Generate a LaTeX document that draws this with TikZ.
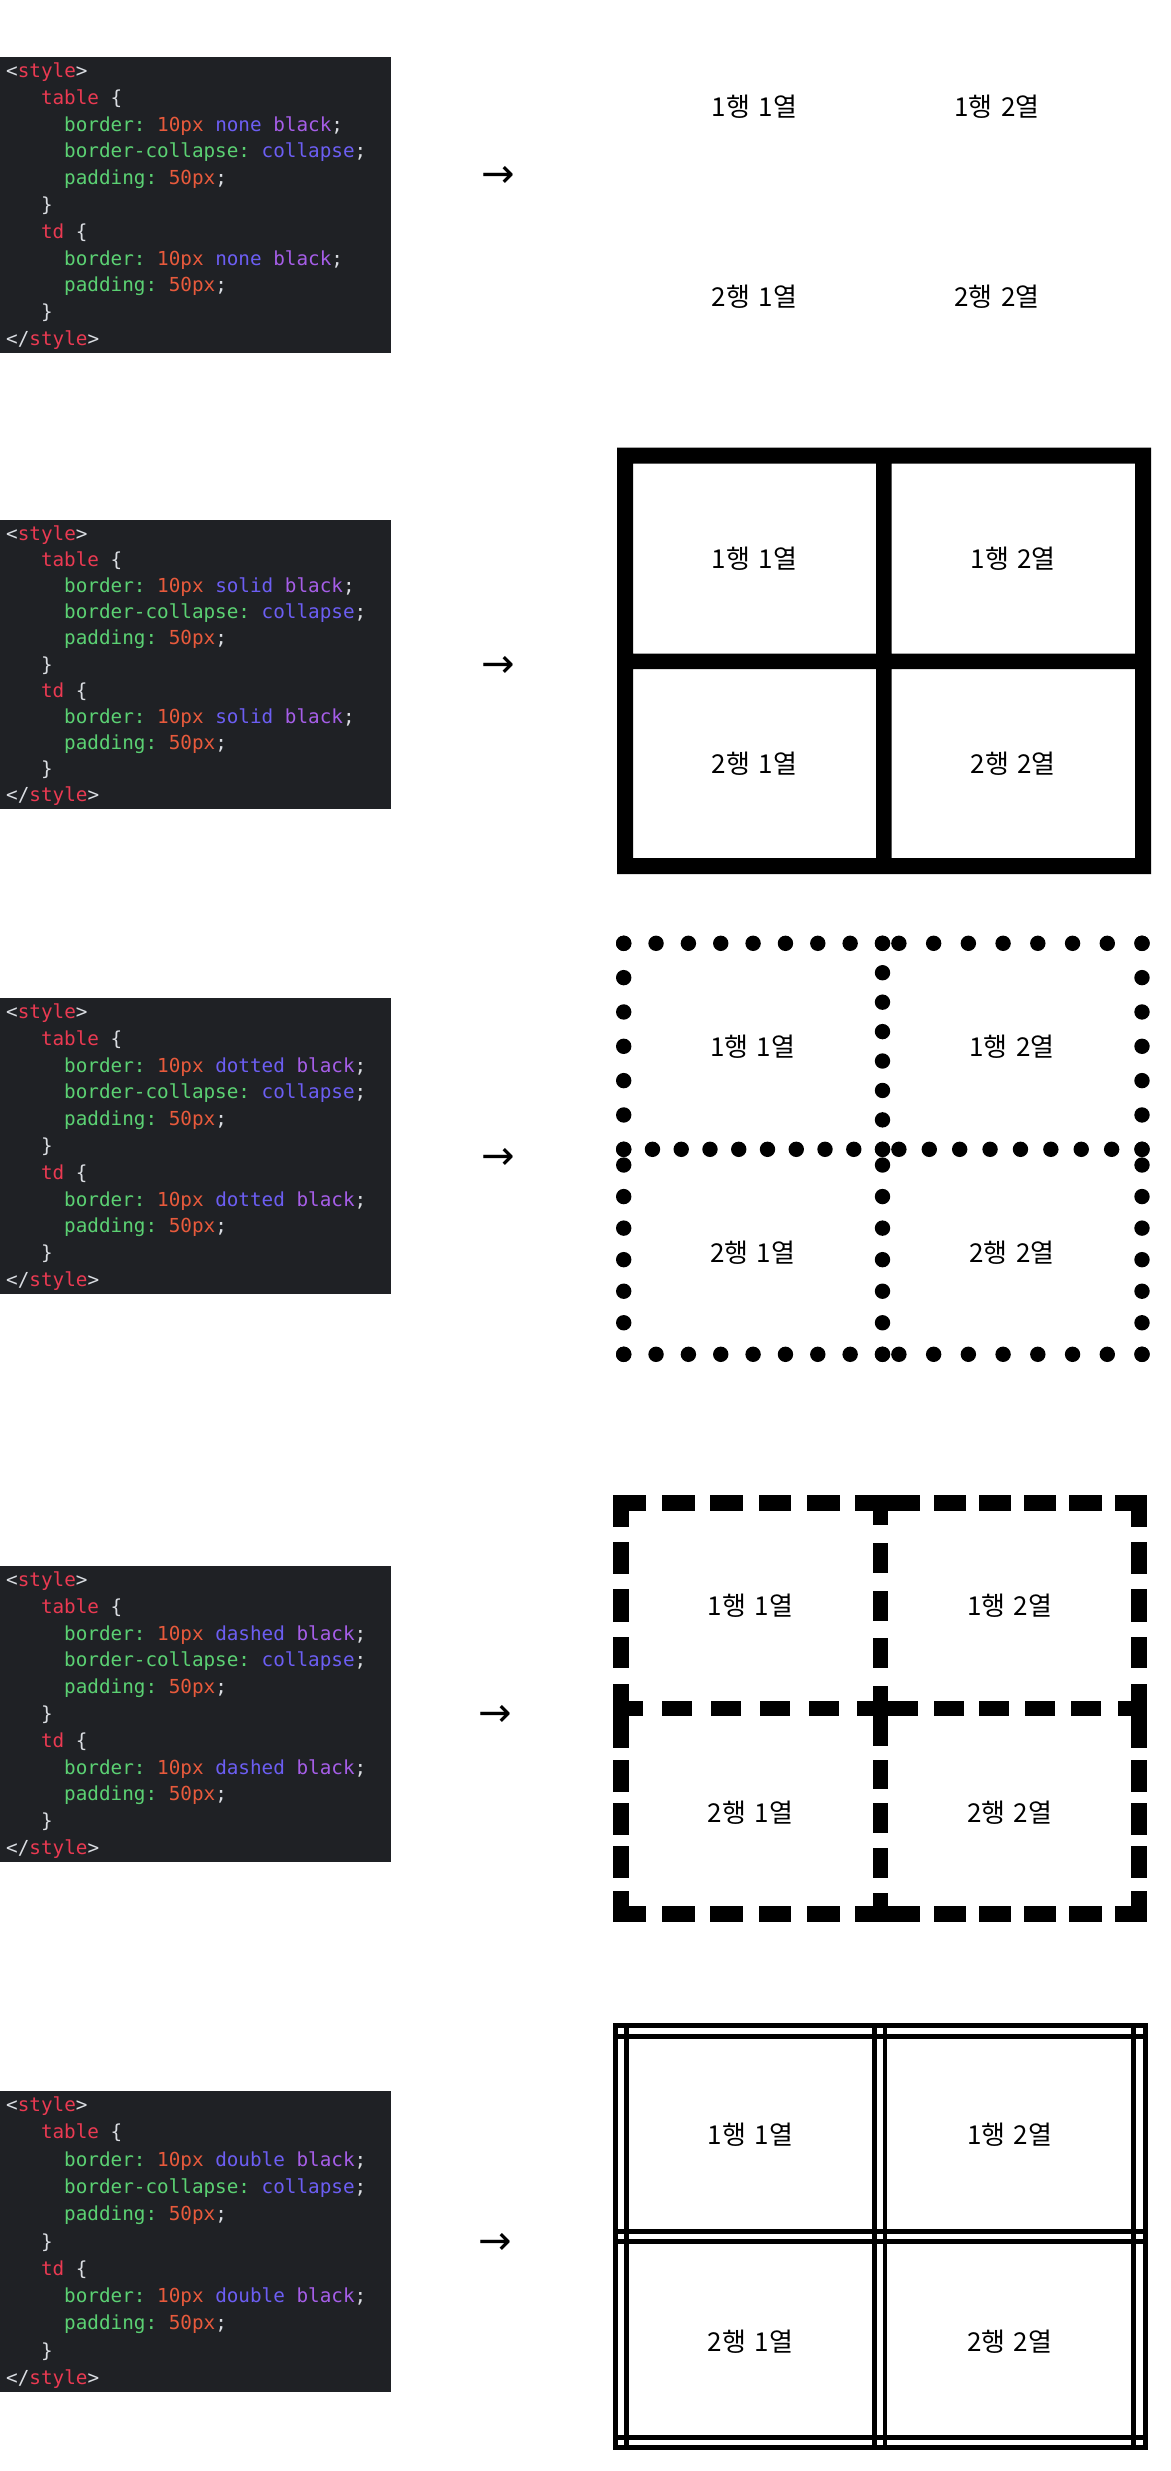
\documentclass[tikz,border=0pt]{standalone}
\usepackage{fontspec}
\setmonofont{DejaVu Sans Mono}
\newfontfamily\krfont{Noto Sans CJK KR}
\newfontfamily\arrowfont{DejaVu Sans}
\definecolor{codebg}{HTML}{1F2125}
\definecolor{ctag}{HTML}{EA3A52}
\definecolor{cpunc}{HTML}{DADDE2}
\definecolor{cprop}{HTML}{5BD173}
\definecolor{cnum}{HTML}{E85A3C}
\definecolor{ckw}{HTML}{6C5EF3}
\definecolor{cblk}{HTML}{A65EE8}
\tikzset{
  codetxt/.style={anchor=base west, inner sep=0pt, font=\ttfamily\fontsize{19.3}{19.3}\selectfont},
  celltxt/.style={anchor=center, inner sep=0pt, font=\krfont\fontsize{26}{26}\selectfont},
  arrowtxt/.style={anchor=center, inner sep=0pt, font=\arrowfont\fontsize{40}{40}\selectfont},
  codebox/.style={fill=codebg, draw=none},
  dot/.style={fill=black}
}
\newcommand\mycodeline[4]{\node[codetxt] (#1) at ({6+#2*11.6},{#3}) {#4};}
\newcommand\mycodeblock[4]{%
  \pgfmathsetmacro\cbtop{#2}%
  \pgfmathsetmacro\cbstep{(#3-28)/10}%
  \path[codebox] (0,#2) rectangle (391,{#2+#3});
  \mycodeline{#1l0}{0}{\cbtop+20.5+0*\cbstep}{\textcolor{cpunc}{<}\textcolor{ctag}{style}\textcolor{cpunc}{>}}
  \mycodeline{#1l1}{3}{\cbtop+20.5+1*\cbstep}{\textcolor{ctag}{table} \textcolor{cpunc}{\{}}
  \mycodeline{#1l2}{5}{\cbtop+20.5+2*\cbstep}{\textcolor{cprop}{border:} \textcolor{cnum}{10px} \textcolor{ckw}{#4} \textcolor{cblk}{black}\textcolor{cpunc}{;}}
  \mycodeline{#1l3}{5}{\cbtop+20.5+3*\cbstep}{\textcolor{cprop}{border-collapse:} \textcolor{ckw}{collapse}\textcolor{cpunc}{;}}
  \mycodeline{#1l4}{5}{\cbtop+20.5+4*\cbstep}{\textcolor{cprop}{padding:} \textcolor{cnum}{50px}\textcolor{cpunc}{;}}
  \mycodeline{#1l5}{3}{\cbtop+20.5+5*\cbstep}{\textcolor{cpunc}{\}}}
  \mycodeline{#1l6}{3}{\cbtop+20.5+6*\cbstep}{\textcolor{ctag}{td} \textcolor{cpunc}{\{}}
  \mycodeline{#1l7}{5}{\cbtop+20.5+7*\cbstep}{\textcolor{cprop}{border:} \textcolor{cnum}{10px} \textcolor{ckw}{#4} \textcolor{cblk}{black}\textcolor{cpunc}{;}}
  \mycodeline{#1l8}{5}{\cbtop+20.5+8*\cbstep}{\textcolor{cprop}{padding:} \textcolor{cnum}{50px}\textcolor{cpunc}{;}}
  \mycodeline{#1l9}{3}{\cbtop+20.5+9*\cbstep}{\textcolor{cpunc}{\}}}
  \mycodeline{#1lx}{0}{\cbtop+20.5+10*\cbstep}{\textcolor{cpunc}{</}\textcolor{ctag}{style}\textcolor{cpunc}{>}}
}
\newcommand\mycells[5]{% prefix, x1, x2, y1, y2
  \node[celltxt] (#1a) at (#2,#4) {1행\hspace{0.32em}1열};
  \node[celltxt] (#1b) at (#3,#4) {1행\hspace{0.32em}2열};
  \node[celltxt] (#1c) at (#2,#5) {2행\hspace{0.32em}1열};
  \node[celltxt] (#1d) at (#3,#5) {2행\hspace{0.32em}2열};
}
\begin{document}
\begin{tikzpicture}[x=1pt,y=-1pt]
\useasboundingbox[fill=white] (0,0) rectangle (1170,2471);

% ---------- code boxes ----------
\mycodeblock{pa}{57}{296}{none}
\mycodeblock{pb}{520}{289}{solid}
\mycodeblock{pc}{998}{296}{dotted}
\mycodeblock{pd}{1566}{296}{dashed}
\mycodeblock{pe}{2091}{301}{double}

% ---------- arrows ----------
\node[arrowtxt] (ara) at (498,177) {→};
\node[arrowtxt] (arb) at (498,667) {→};
\node[arrowtxt] (arc) at (498,1159) {→};
\node[arrowtxt] (ard) at (495,1715.5) {→};
\node[arrowtxt] (are) at (495,2244) {→};

% ---------- panel 1: none ----------
\mycells{ta}{754.5}{997}{107}{296.5}

% ---------- panel 2: solid ----------
\fill[black, even odd rule] (617,447.5) rectangle (1151,874)
  (633,463.5) rectangle (876,653.5)
  (891.5,463.5) rectangle (1135,653.5)
  (633,669) rectangle (876,858)
  (891.5,669) rectangle (1135,858);
\mycells{tb}{754.5}{1013.2}{558.5}{763.5}

% ---------- panel 3: dotted ----------
\foreach \i in {0,...,8} {
  \fill[dot] ({623.7+\i*32.35},943.3) circle[radius=7.7pt];
  \fill[dot] ({623.7+\i*32.35},1354.3) circle[radius=7.7pt];
}
\foreach \i in {0,...,7} {
  \fill[dot] ({898.9+\i*34.73},943.3) circle[radius=7.7pt];
  \fill[dot] ({898.9+\i*34.73},1354.3) circle[radius=7.7pt];
}
\foreach \i in {0,...,9} \fill[dot] ({623.7+\i*28.76},1149.3) circle[radius=7.7pt];
\foreach \i in {0,...,8} \fill[dot] ({898.9+\i*30.39},1149.3) circle[radius=7.7pt];
\foreach \i in {0,...,6} {
  \fill[dot] (623.7,{943.3+\i*34.33}) circle[radius=7.7pt];
  \fill[dot] (1142,{943.3+\i*34.33}) circle[radius=7.7pt];
  \fill[dot] (623.7,{1165+\i*31.55}) circle[radius=7.7pt];
  \fill[dot] (1142,{1165+\i*31.55}) circle[radius=7.7pt];
  \fill[dot] (882.5,{1165+\i*31.55}) circle[radius=7.7pt];
}
\foreach \i in {0,...,7} \fill[dot] (882.5,{943.3+\i*29.43}) circle[radius=7.7pt];
\mycells{tc}{752.7}{1011.9}{1047}{1252.3}

% ---------- panel 4: dashed ----------
\begin{scope}[shift={(600,1480)}, xscale=0.3645, yscale=0.33333]
\foreach \a/\b/\c/\d in {
  37/45/125/93, 37/45/80/142, 170/45/260/93, 302/45/392/93, 435/45/525/93, 568/45/658/93,
  700/45/878/93, 748/93/790/135, 915/45/1003/93, 1040/45/1128/93, 1163/45/1252/93,
  1288/45/1377/93, 1413/45/1502/93, 1458/45/1502/142,
  37/185/80/283, 37/327/80/425, 37/470/80/565, 37/612/80/803, 80/662/118/708,
  37/840/80/935, 37/968/80/1065, 37/1098/80/1195, 37/1232/80/1326, 37/1278/125/1326,
  748/188/790/278, 748/332/790/422, 748/475/790/565, 748/618/790/798, 706/662/872/708,
  748/840/790/928, 748/970/790/1060, 748/1105/790/1193, 748/1238/790/1326, 700/1278/878/1326,
  1458/185/1502/283, 1458/327/1502/425, 1458/470/1502/565, 1458/612/1502/803, 1420/662/1458/708,
  1458/840/1502/935, 1458/968/1502/1065, 1458/1098/1502/1195, 1458/1232/1502/1326, 1413/1278/1502/1326,
  170/662/252/708, 305/662/388/708, 438/662/520/708, 572/662/655/708,
  915/662/998/708, 1040/662/1123/708, 1165/662/1248/708, 1292/662/1375/708,
  170/1278/260/1326, 302/1278/392/1326, 435/1278/525/1326, 568/1278/658/1326,
  915/1278/1003/1326, 1040/1278/1128/1326, 1163/1278/1252/1326, 1288/1278/1377/1326}
  \fill[black] (\a,\b) rectangle (\c,\d);
\end{scope}
\mycells{td}{750.5}{1009.7}{1606}{1812.3}

% ---------- panel 5: double ----------
\foreach \a/\b in {613.3/618, 624/628.7, 872.4/877, 882.6/887.2, 1131.4/1135.8, 1142.6/1147.5}
  \fill[black] (\a,2023.3) rectangle (\b,2450);
\foreach \a/\b in {2023.3/2027.7, 2034/2039, 2229.3/2234.3, 2239.3/2244.3, 2435/2440, 2445/2450}
  \fill[black] (613.3,\a) rectangle (1147.5,\b);
\mycells{te}{750.5}{1009.7}{2135}{2341.3}
\end{tikzpicture}
\end{document}
